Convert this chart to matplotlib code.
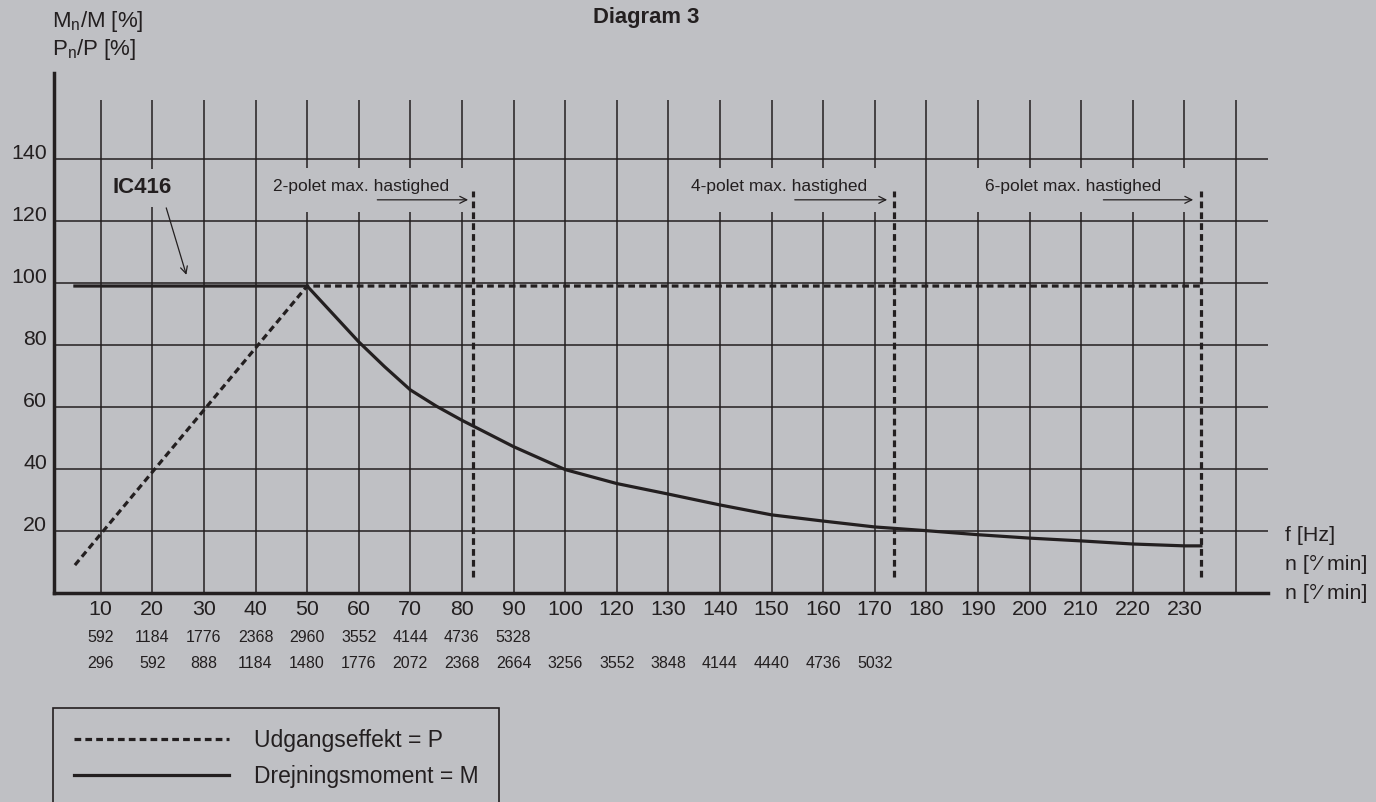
import matplotlib
matplotlib.use("Agg")
from matplotlib import pyplot as plt
from matplotlib.patches import Rectangle

plt.rcParams['font.family'] = ['Liberation Sans', 'DejaVu Sans']

BG = "#bfc0c4"
INK = "#231f20"

# x axis: one slot per label, 10 Hz sits in slot 1
freq_labels = [10, 20, 30, 40, 50, 60, 70, 80, 90, 100, 120, 130, 140, 150,
               160, 170, 180, 190, 200, 210, 220, 230]
rpm_row1 = [592, 1184, 1776, 2368, 2960, 3552, 4144, 4736, 5328]
rpm_row2 = [296, 592, 888, 1184, 1480, 1776, 2072, 2368, 2664, 3256, 3552,
            3848, 4144, 4440, 4736, 5032]
y_ticks = [20, 40, 60, 80, 100, 120, 140]

# output power P (dashed) and torque M (solid), x in slots
p_x = [0.5, 5.0, 22.32]
p_y = [9, 99, 99]
m_x = [0.5, 5.0, 6, 6.5, 7, 7.5, 8, 9, 10, 11, 12, 13, 14, 15, 16, 17, 18,
       19, 20, 21, 22, 22.32]
m_y = [99, 99, 81, 73, 65.5, 60.3, 55.7, 47.2, 39.8, 35.3, 31.9, 28.4, 25.2,
       23.2, 21.3, 20.1, 18.8, 17.7, 16.8, 15.8, 15.2, 15.2]

# max speed markers
limit_x = [8.22, 16.37, 22.32]
limit_text = ["2-polet max. hastighed", "4-polet max. hastighed",
              "6-polet max. hastighed"]

W, H = 1376, 802
DASH = (2.1, 1.3)
fig = plt.figure(figsize=(W / 100, H / 100), dpi=100, facecolor=BG)
ax = fig.add_axes([54 / W, 1 - 593 / H, (1268 - 54) / W, (593 - 73) / H])
ax.set_facecolor(BG)
x0, x1 = 0.095, 23.62
ax.set_xlim(x0, x1)
ax.set_ylim(0, 167.7)

for s in ["top", "right"]:
    ax.spines[s].set_visible(False)
for s in ["left", "bottom"]:
    ax.spines[s].set_linewidth(2.5)
    ax.spines[s].set_color(INK)

# grid
slots = list(range(1, len(freq_labels) + 1))
ax.vlines(slots + [len(freq_labels) + 1], 0, 159, color=INK, lw=1.1, zorder=1)
ax.hlines(y_ticks, x0, x1, color=INK, lw=1.1, zorder=1)

ax.set_xticks(slots, labels=[str(f) for f in freq_labels], fontsize=15.4, color=INK)
ax.set_yticks(y_ticks, labels=[str(v) for v in y_ticks], fontsize=15.4, color=INK)
ax.tick_params(axis="x", length=0, pad=5)
ax.tick_params(axis="y", length=0, pad=5)
for lab in ax.get_yticklabels():
    lab.set_verticalalignment("baseline")

for i, v in enumerate(rpm_row1):
    ax.annotate(str(v), xy=(slots[i], 0), xytext=(0, -44), textcoords="offset pixels",
                ha="center", va="center", fontsize=11.5, color=INK, annotation_clip=False)
for i, v in enumerate(rpm_row2):
    ax.annotate(str(v), xy=(slots[i], 0), xytext=(0, -70), textcoords="offset pixels",
                ha="center", va="center", fontsize=11.5, color=INK, annotation_clip=False)

# right side unit labels
for txt, dy in [("f [Hz]", 52), ("n [°⁄ min]", 23), ("n [°⁄ min]", -6)]:
    ax.annotate(txt, xy=(1, 0), xycoords="axes fraction", xytext=(17, dy),
                textcoords="offset pixels", ha="left", va="baseline",
                fontsize=15.4, color=INK, annotation_clip=False)

# curves
p_line, = ax.plot(p_x, p_y, color=INK, lw=2.3, dashes=DASH, zorder=4)
m_line, = ax.plot(m_x, m_y, color=INK, lw=2.3, zorder=4,
                  solid_joinstyle="round")

# max speed limits with their labels
boxes = [(4.18, 8.16), (12.29, 16.28), (17.98, 22.22)]
text_x = [4.34, 12.44, 18.14]
arrow_x = [(6.36, 8.12), (14.45, 16.24), (20.43, 22.17)]
for lx, txt, (b0, b1), tx, (a0, a1) in zip(limit_x, limit_text, boxes, text_x, arrow_x):
    ax.add_patch(Rectangle((b0, 122.9), b1 - b0, 14.2, facecolor=BG,
                           edgecolor="none", zorder=2))
    ax.plot([lx, lx], [5.2, 129.7], color=INK, lw=2.3, dashes=DASH, zorder=4)
    ax.text(tx, 131, txt, fontsize=12.5, color=INK, ha="left", va="center", zorder=5)
    ax.annotate("", xy=(a1, 126.8), xytext=(a0, 126.8),
                arrowprops=dict(arrowstyle="->,head_length=0.5,head_width=0.25",
                                color=INK, lw=0.9, shrinkA=0, shrinkB=0), zorder=5)

# IC416 label
ax.add_patch(Rectangle((1.28, 124.5), 1.22, 12.3, facecolor=BG, edgecolor="none", zorder=2))
ax.text(1.8, 130.8, "IC416", fontsize=16, fontweight="bold", color=INK,
        ha="center", va="center", zorder=5)
ax.annotate("", xy=(2.66, 102.6), xytext=(2.27, 124.2),
            arrowprops=dict(arrowstyle="->,head_length=0.5,head_width=0.25",
                            color=INK, lw=0.9, shrinkA=0, shrinkB=0), zorder=5)

# titles
fig.text(646 / W, 1 - 18 / H, "Diagram 3", fontsize=15.8, fontweight="bold",
         color=INK, ha="center", va="center")
fig.text(52 / W, 1 - 27 / H, r"$\mathregular{M_n}$/M [%]", fontsize=16,
         color=INK, ha="left", va="baseline")
fig.text(52 / W, 1 - 55 / H, r"$\mathregular{P_n}$/P [%]", fontsize=16,
         color=INK, ha="left", va="baseline")

# legend (box runs off the bottom of the page like the original)
leg = ax.legend([p_line, m_line], ["Udgangseffekt = P", "Drejningsmoment = M"],
                loc="upper left", bbox_to_anchor=(53 / W, 1 - 708 / H),
                bbox_transform=fig.transFigure, fontsize=16.5, handlelength=6.8,
                handletextpad=1.05, borderpad=0.9, labelspacing=0.6,
                fancybox=False, edgecolor=INK, facecolor=BG, framealpha=1,
                borderaxespad=0)
leg.get_frame().set_linewidth(1.2)
for t in leg.get_texts():
    t.set_color(INK)

fig.savefig("out.png", dpi=100, facecolor=BG)
